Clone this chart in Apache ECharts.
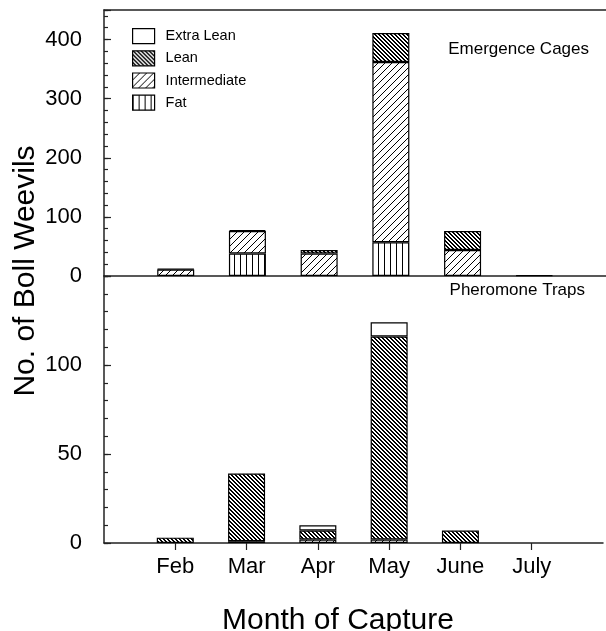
<!DOCTYPE html>
<html>
<head>
<meta charset="utf-8">
<script src="https://cdn.jsdelivr.net/npm/echarts@6/dist/echarts.min.js"></script>
<style>
  html, body { margin: 0; padding: 0; background: #fff; }
  #chart { width: 606px; height: 631px; }
</style>
</head>
<body>
<div id="chart"></div>
<script>
// Month of capture
const months = ['Feb', 'Mar', 'Apr', 'May', 'June', 'July'];
// Fat-body classes, legend order
const classes = ['Extra Lean', 'Lean', 'Intermediate', 'Fat'];

// Emergence cages: number of boll weevils per class
const cageFat          = [0, 38, 0, 57, 0, 0];
const cageIntermediate = [11, 38, 38, 305, 44, 0];
const cageLean         = [1, 2, 6, 49, 32, 1];
const cageExtraLean    = [0, 0, 0, 0, 0, 0];

// Pheromone traps: number of boll weevils per class
const trapFat          = [0, 0, 0, 0, 0, 0];
const trapIntermediate = [0, 1, 2, 2, 0, 0];
const trapLean         = [3, 38, 5, 114, 7, 0];
const trapExtraLean    = [0, 0, 3, 8, 0, 0];

// Labelled ticks of the two count axes
const cageTicks = [0, 100, 200, 300, 400];
const trapTicks = [0, 50, 100];

const FONT = '"Liberation Sans", Arial, Helvetica, sans-serif';
const INK = '#000';
const AXIS = '#222';

// Fill patterns for the fat-body classes
function tile(w, h, draw) {
  const c = document.createElement('canvas');
  c.width = w; c.height = h;
  const g = c.getContext('2d');
  g.fillStyle = '#fff';
  g.fillRect(0, 0, w, h);
  g.fillStyle = '#000';
  draw(g, w, h);
  return c;
}
// dense back-slash hatching
const leanTile = tile(4, 4, (g, w) => {
  for (let i = 0; i < w; i++) {
    g.fillRect(i, i, 1, 1);
    g.fillRect((i + 1) % w, i, 1, 1);
  }
});
// open forward-slash hatching
const interTile = tile(7, 7, (g, w) => {
  for (let i = 0; i < w; i++) g.fillRect(i, w - 1 - i, 1, 1);
});
// vertical stripes
const fatTile = tile(6, 6, (g, w, h) => {
  g.fillRect(0, 0, 1, h);
});

const fills = {
  'Extra Lean': '#fff',
  'Lean': { image: leanTile, repeat: 'repeat' },
  'Intermediate': { image: interTile, repeat: 'repeat' },
  'Fat': { image: fatTile, repeat: 'repeat' }
};

// category axis padded so the months sit one step in from each edge
const axisCats = [''].concat(months, ['']);
function pad(values) {
  return [null].concat(values.map(v => (v > 0 ? v : null)), [null]);
}

function barSeries(name, values, panel, stack) {
  return {
    type: 'bar',
    name: name,
    stack: stack,
    xAxisIndex: panel,
    yAxisIndex: panel * 2,
    barWidth: 37,
    data: pad(values),
    itemStyle: { color: fills[name], borderColor: INK, borderWidth: 1.2 },
    emphasis: { disabled: true },
    animation: false
  };
}

function countAxis(grid, max, interval, ticks, withLabels, tickLen) {
  return {
    type: 'value',
    gridIndex: grid,
    min: 0,
    max: max,
    interval: interval,
    position: 'left',
    axisLine: { show: withLabels, onZero: false, lineStyle: { color: AXIS, width: 1.5 } },
    axisTick: { show: true, inside: true, length: tickLen, lineStyle: { color: AXIS, width: 1.2 } },
    axisLabel: {
      show: withLabels,
      margin: 22,
      fontSize: 22,
      fontFamily: FONT,
      color: INK,
      formatter: v => (ticks.indexOf(v) >= 0 ? String(v) : '')
    },
    splitLine: { show: false }
  };
}

function monthAxis(grid, position, withTicks) {
  return {
    type: 'category', gridIndex: grid, data: axisCats, boundaryGap: false, position: position,
    axisLine: { onZero: false, lineStyle: { color: AXIS, width: 1.5 } },
    axisTick: {
      show: withTicks, inside: false, length: 7,
      interval: (i, v) => v !== '',
      lineStyle: { color: AXIS, width: 1.2 }
    },
    axisLabel: { show: withTicks, interval: 0, margin: 13, fontSize: 22, fontFamily: FONT, color: INK }
  };
}

const chart = echarts.init(document.getElementById('chart'), null, { renderer: 'canvas' });

chart.setOption({
  animation: false,
  backgroundColor: '#fff',
  textStyle: { fontFamily: FONT },
  grid: [
    { left: 104, right: 0, top: 10, height: 266 },
    { left: 104, right: 0, top: 276, height: 267 }
  ],
  xAxis: [
    monthAxis(0, 'bottom', false),
    monthAxis(1, 'bottom', true),
    monthAxis(0, 'top', false)
  ],
  yAxis: [
    countAxis(0, 450, 100, cageTicks, true, 7),
    countAxis(0, 450, 20, cageTicks, false, 4),
    countAxis(1, 150, 50, trapTicks, true, 7),
    countAxis(1, 150, 10, trapTicks, false, 4)
  ],
  legend: {
    data: classes,
    orient: 'vertical',
    left: 132,
    top: 28,
    padding: 0,
    itemWidth: 22,
    itemHeight: 15,
    itemGap: 6,
    icon: 'rect',
    selectedMode: false,
    itemStyle: { borderColor: INK, borderWidth: 1.2 },
    textStyle: { fontSize: 14.5, fontFamily: FONT, color: INK, padding: [0, 0, 0, 6] }
  },
  title: [
    {
      text: 'Emergence Cages', right: 17, top: 41, padding: 0,
      textStyle: { fontSize: 17, fontWeight: 'normal', fontFamily: FONT, color: INK }
    },
    {
      text: 'Pheromone Traps', right: 21, top: 282, padding: 0,
      textStyle: { fontSize: 17, fontWeight: 'normal', fontFamily: FONT, color: INK }
    }
  ],
  graphic: [
    {
      type: 'text', x: 26, y: 271, rotation: Math.PI / 2,
      style: {
        text: 'No. of Boll Weevils', fill: INK, font: '30px ' + FONT,
        align: 'center', verticalAlign: 'middle', textAlign: 'center', textVerticalAlign: 'middle'
      }
    },
    {
      type: 'text', x: 338, y: 621,
      style: {
        text: 'Month of Capture', fill: INK, font: '30px ' + FONT,
        align: 'center', verticalAlign: 'middle', textAlign: 'center', textVerticalAlign: 'middle'
      }
    }
  ],
  series: [
    barSeries('Fat', cageFat, 0, 'cage'),
    barSeries('Intermediate', cageIntermediate, 0, 'cage'),
    barSeries('Lean', cageLean, 0, 'cage'),
    barSeries('Extra Lean', cageExtraLean, 0, 'cage'),
    barSeries('Fat', trapFat, 1, 'trap'),
    barSeries('Intermediate', trapIntermediate, 1, 'trap'),
    barSeries('Lean', trapLean, 1, 'trap'),
    barSeries('Extra Lean', trapExtraLean, 1, 'trap')
  ]
});
</script>
</body>
</html>
